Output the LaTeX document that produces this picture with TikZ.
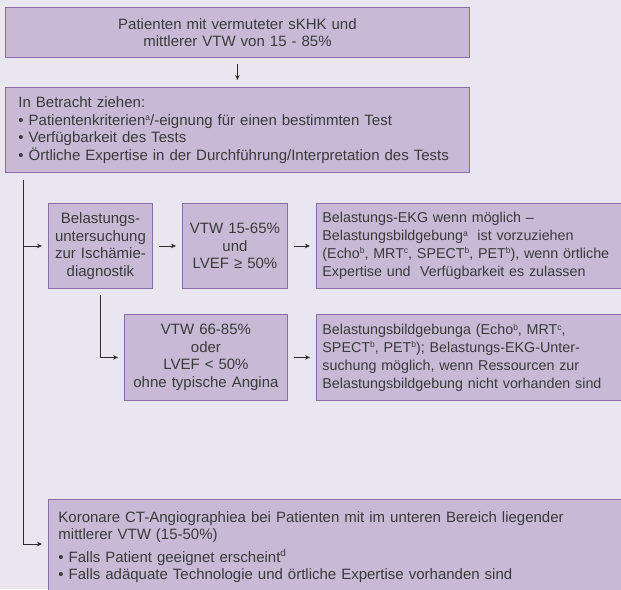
\documentclass[tikz,border=0pt]{standalone}
\usepackage{fontspec}
\setmainfont{Liberation Sans}
\usetikzlibrary{arrows.meta,calc}

\definecolor{bg}{HTML}{E9E6F0}
\definecolor{boxfill}{HTML}{C8BAD6}
\definecolor{boxline}{HTML}{8C6CA8}
\definecolor{ink}{HTML}{3A3A3A}
\definecolor{wire}{HTML}{2E2E2E}

% small raised footnote letters
\newcommand{\fnmark}[1]{\raisebox{0.62ex}{\fontsize{8.5}{8.5}\selectfont #1}}
\newcommand{\fnmarkbig}[1]{\raisebox{0.75ex}{\fontsize{10}{10}\selectfont #1}}

\tikzset{
  panel/.style={draw=boxline, line width=0.9pt, fill=boxfill, text=ink,
    inner sep=0pt, anchor=north west,
    font=\fontsize{15}{17.5}\selectfont},
  advice/.style={panel, align=left, minimum width=330pt, text width=318pt,
    font=\fontsize{14.3}{17.8}\selectfont},
  flow/.style={draw=wire, line width=0.9pt,
    -{Stealth[length=5pt,width=4.5pt]}},
}

\begin{document}
\begin{tikzpicture}[x=1pt, y=-1pt]
  % page and background
  \useasboundingbox (0,0) rectangle (621,589);
  \fill[bg] (0,0) rectangle (621,589);

  % entry boxes
  \node[panel, minimum width=464pt, minimum height=50pt, text width=440pt,
        align=center] (start) at (5,7)
    {Patienten mit vermuteter sKHK und\\mittlerer VTW von 15 - 85\%};

  \node[panel, minimum width=464pt, minimum height=85pt, text width=438pt,
        align=left] (consider) at (5,87)
    {In Betracht ziehen:\\
     • Patientenkriterien\fnmark{a}/-eignung für einen bestimmten Test\\
     • Verfügbarkeit des Tests\\
     • Örtliche Expertise in der Durchführung/Interpretation des Tests};

  % stress testing row
  \node[panel, minimum width=104pt, minimum height=85pt, text width=100pt,
        align=center] (stress) at (48,203)
    {Belastungs-\\untersuchung\\zur Ischämie-\\diagnostik};

  \node[panel, minimum width=105pt, minimum height=85pt, text width=100pt,
        align=center] (low) at (182,203)
    {VTW 15-65\%\\und\\LVEF ≥ 50\%};

  \node[advice, minimum height=85pt] (lowrec) at (316,203)
    {Belastungs-EKG wenn möglich –\\
     Belastungsbildgebung\fnmark{a}\ \ ist vorzuziehen\\
     (Echo\fnmark{b}, MRT\fnmark{c}, SPECT\fnmark{b}, PET\fnmark{b}), wenn örtliche\\
     Expertise und\ \ Verfügbarkeit es zulassen};

  \node[panel, minimum width=163pt, minimum height=86pt, text width=155pt,
        align=center] (high) at (124,314)
    {VTW 66-85\%\\oder\\LVEF < 50\%\\ohne typische Angina};

  \node[advice, minimum height=86pt] (highrec) at (316,314)
    {Belastungsbildgebunga (Echo\fnmark{b}, MRT\fnmark{c},\\
     SPECT\fnmark{b}, PET\fnmark{b}); Belastungs-EKG-Unter-\\
     suchung möglich, wenn Ressourcen zur\\
     Belastungsbildgebung nicht vorhanden sind};

  % CT angiography box
  \node[panel, minimum width=582pt, minimum height=95pt, text width=562pt,
        align=left] (ct) at (48,499)
    {Koronare CT-Angiographiea bei Patienten mit im unteren Bereich liegender\\
     mittlerer VTW (15-50\%)\\[5pt]
     • Falls Patient geeignet erscheint\fnmarkbig{d}\\
     • Falls adäquate Technologie und örtliche Expertise vorhanden sind};

  % connectors
  \draw[flow, shorten <=6pt, shorten >=7pt] (start.south) -- (consider.north);

  \coordinate (trunk) at ($(consider.south west)+(18,7)$);
  \coordinate (ctin) at ($(ct.north west)+(0,45)$);
  \draw[flow, shorten >=6pt] (trunk) |- (ctin);
  \draw[flow, shorten >=6pt] (trunk |- stress.west) -- (stress.west);

  \draw[flow, shorten <=6pt, shorten >=6pt] (stress.east) -- (low.west);
  \draw[flow, shorten <=6pt, shorten >=6pt] (low.east) -- (lowrec.west |- low.east);
  \draw[flow, shorten <=6pt, shorten >=6pt] (stress.south) |- (high.west);
  \draw[flow, shorten <=6pt, shorten >=6pt] (high.east) -- (highrec.west |- high.east);
\end{tikzpicture}
\end{document}
